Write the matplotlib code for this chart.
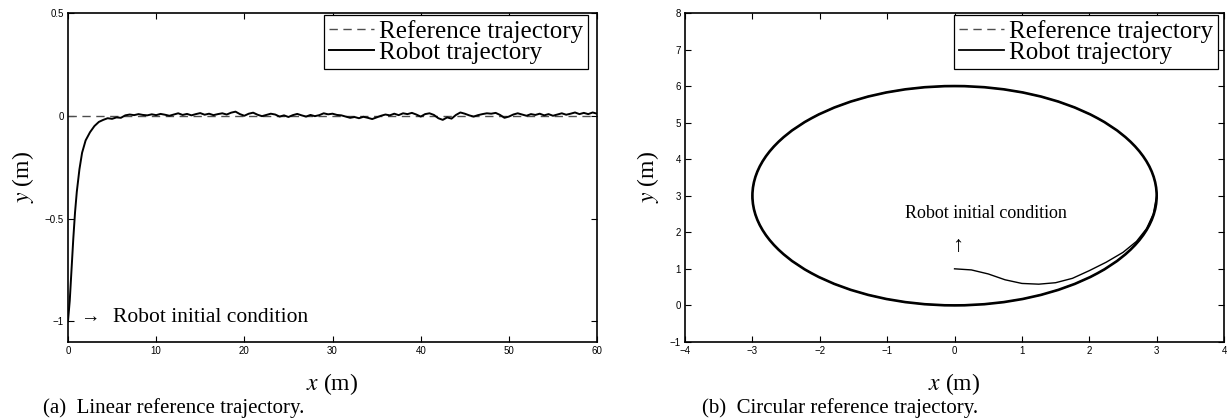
import matplotlib
matplotlib.use('Agg')
import matplotlib.pyplot as plt
from matplotlib.patches import Circle
import numpy as np

plt.rcParams['font.family'] = 'Liberation Serif'
plt.rcParams['mathtext.fontset'] = 'stix'

# (a) linear reference: robot transient then noisy tracking of y = 0
ref_line_x = [0, 60]
ref_line_y = [0, 0]
robot_start_x = [0, 0.2, 0.4, 0.6, 0.8, 1.0, 1.3, 1.6, 2.0, 2.5, 3.0, 3.5]
robot_start_y = [-1.0, -0.9, -0.75, -0.6, -0.47, -0.37, -0.26, -0.18, -0.12, -0.08, -0.05, -0.03]
robot_track_y = [
    -0.02, -0.012, -0.015, -0.008, -0.01, 0.002, 0.006, 0.003, 0.008, 0.004,
    0.002, 0.007, 0.003, 0.009, 0.005, 0.0, 0.006, 0.012, 0.004, 0.009,
    0.002, 0.008, 0.013, 0.005, 0.01, 0.003, 0.008, 0.012, 0.006, 0.015,
    0.02, 0.008, 0.0, 0.01, 0.015, 0.005, -0.002, 0.004, 0.01, 0.006,
    -0.004, 0.002, -0.006, 0.003, 0.009, 0.002, -0.004, 0.004, -0.002, 0.003,
    0.012, 0.007, 0.01, 0.004, 0.002, -0.004, -0.01, -0.006, -0.012, -0.005,
    -0.01, -0.016, -0.008, 0.0, 0.006, 0.002, 0.01, 0.003, 0.012, 0.008,
    0.014, 0.006, -0.004, 0.008, 0.012, 0.004, -0.012, -0.02, -0.008, -0.014,
    0.004, 0.016, 0.01, 0.002, -0.004, 0.003, 0.008, 0.012, 0.01, 0.014,
    0.004, -0.01, -0.004, 0.006, 0.012, 0.006, 0.0, 0.008, 0.004, 0.01,
    0.002, 0.008, 0.0, 0.006, 0.012, 0.005, 0.01, 0.016, 0.008, 0.014,
    0.008, 0.016, 0.01,
]
track_x_range = (4, 60)

# (b) circular reference: centre (0, 3), radius 3
circle_center = (0, 3)
circle_radius = 3
robot_circ_x = [0, 0.25, 0.5, 0.75, 1.0, 1.25, 1.5, 1.75, 2.0, 2.25, 2.5, 2.7, 2.85, 2.95, 3.0]
robot_circ_y = [1.0, 0.97, 0.86, 0.7, 0.6, 0.58, 0.62, 0.74, 0.95, 1.18, 1.45, 1.75, 2.1, 2.5, 3.0]

fig = plt.figure(figsize=(12.27, 4.18), dpi=100)
ax1 = fig.add_axes([0.0554, 0.182, 0.4312, 0.787])
ax2 = fig.add_axes([0.5583, 0.182, 0.4393, 0.787])


def style_axes(ax):
    ax.tick_params(direction='in', top=True, right=True, length=4, width=0.8,
                   labelsize=7, pad=3)
    for lab in ax.get_xticklabels() + ax.get_yticklabels():
        lab.set_fontfamily('Liberation Sans')
    for sp in ax.spines.values():
        sp.set_linewidth(1.2)
    ax.set_xlabel(r'$x$ (m)', fontsize=17, labelpad=11)
    ax.set_ylabel(r'$y$ (m)', fontsize=17, labelpad=6)


# --- (a) ---
track_x = np.linspace(track_x_range[0], track_x_range[1], len(robot_track_y))
ax1.plot(ref_line_x, ref_line_y, color='0.3', linestyle=(0, (6, 4)), lw=1.0,
         label='Reference trajectory')
ax1.plot(robot_start_x + list(track_x), robot_start_y + robot_track_y,
         color='black', lw=1.4, label='Robot trajectory')
ax1.set_xlim(0, 60)
ax1.set_ylim(-1.1, 0.5)
ax1.set_xticks([0, 10, 20, 30, 40, 50, 60])
ax1.set_yticks([-1, -0.5, 0, 0.5])
ax1.set_yticklabels(['\u22121', '\u22120.5', '0', '0.5'])
style_axes(ax1)
ax1.text(1.35, -0.98, '\u2192', fontsize=14, va='center',
         family=['Liberation Serif', 'DejaVu Sans'])
ax1.text(5.1, -0.98, 'Robot initial condition', fontsize=15.5, va='center')

# --- (b) ---
ref_c = Circle(circle_center, circle_radius, fill=False, edgecolor='0.3',
               linestyle=(0, (6, 4)), lw=1.0)
rob_c = Circle(circle_center, circle_radius, fill=False, edgecolor='black', lw=1.9)
ax2.add_patch(ref_c)
ax2.add_patch(rob_c)
ax2.plot(robot_circ_x, robot_circ_y, color='black', lw=1.0)
ax2.set_xlim(-4, 4)
ax2.set_ylim(-1, 8)
ax2.set_xticks(range(-4, 5))
ax2.set_yticks(range(-1, 9))
ax2.set_xticklabels(['\u22124', '\u22123', '\u22122', '\u22121', '0', '1', '2', '3', '4'])
ax2.set_yticklabels(['\u22121'] + [str(v) for v in range(0, 9)])
style_axes(ax2)
ax2.text(0.47, 2.52, 'Robot initial condition', fontsize=13, ha='center', va='center')
ax2.text(0.05, 1.6, '\u2191', fontsize=16, ha='center', va='center',
         family=['Liberation Serif', 'DejaVu Sans'])

# legends with proxy lines for (b)
ax2.plot([], [], color='0.3', linestyle=(0, (6, 4)), lw=1.0, label='Reference trajectory')
ax2.plot([], [], color='black', lw=1.3, label='Robot trajectory')

for ax, anchor in ((ax1, (0.983, 0.994)), (ax2, (0.989, 0.994))):
    leg = ax.legend(loc='upper right', bbox_to_anchor=anchor, fontsize=18, frameon=True,
                    fancybox=False, edgecolor='black', framealpha=1, borderpad=0.2,
                    labelspacing=-0.05, handlelength=1.8, handletextpad=0.2,
                    borderaxespad=0.0)
    leg.get_frame().set_linewidth(0.9)

fig.text(0.1414, 0.012, '(a)  Linear reference trajectory.', fontsize=15, ha='center')
fig.text(0.6846, 0.012, '(b)  Circular reference trajectory.', fontsize=15, ha='center')

fig.savefig('out.png', dpi=100)
